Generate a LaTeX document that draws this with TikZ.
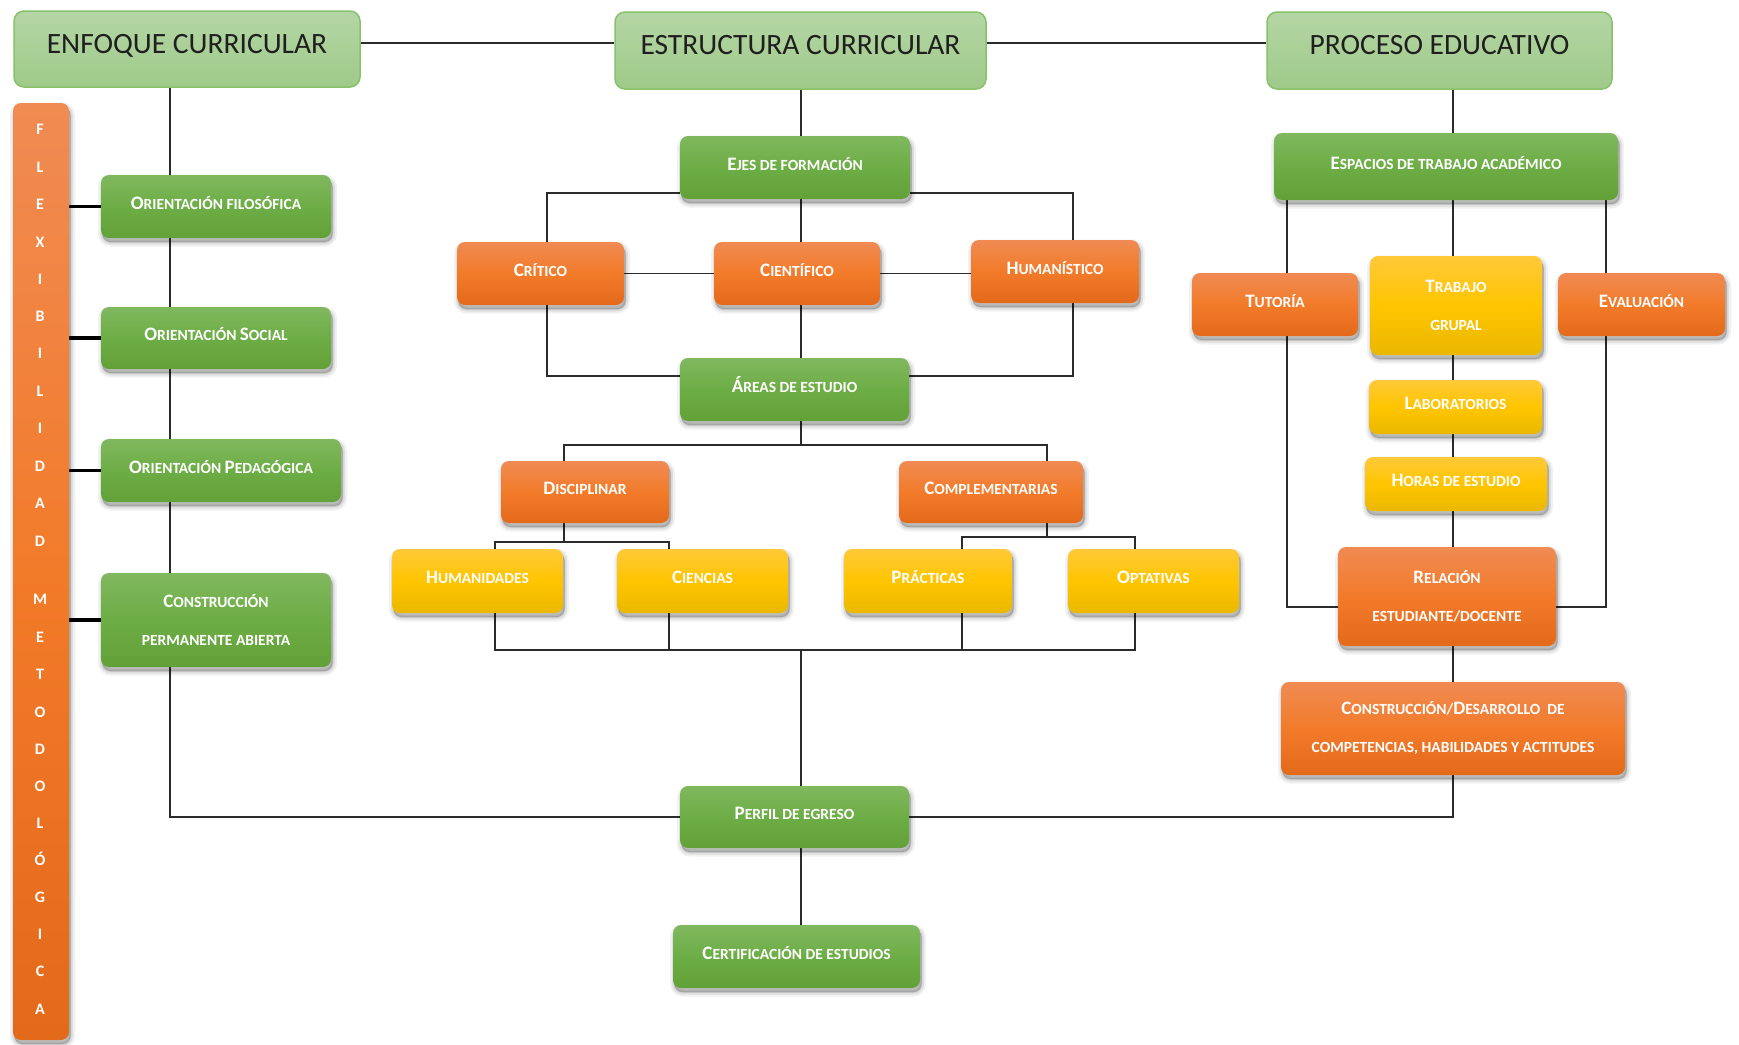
\documentclass[tikz,border=0pt]{standalone}
\usepackage{fontspec}
\setmainfont{Carlito}

\definecolor{hTop}{HTML}{B4D6A5}
\definecolor{hBot}{HTML}{9FCA89}
\definecolor{hLine}{HTML}{88C16B}
\definecolor{gTop}{HTML}{80B85F}
\definecolor{gMid}{HTML}{6DAD45}
\definecolor{gBot}{HTML}{62A138}
\definecolor{oTop}{HTML}{F08B53}
\definecolor{oMid}{HTML}{F27B2A}
\definecolor{oBot}{HTML}{E3691B}
\definecolor{yTop}{HTML}{FFC939}
\definecolor{yMid}{HTML}{FFC500}
\definecolor{yBot}{HTML}{EAB800}
\definecolor{lineC}{HTML}{2B2B2B}

\pgfdeclarelayer{back}
\pgfdeclarelayer{bg}
\pgfsetlayers{back,bg,main}

% larger initial letters of the small-caps labels
\newcommand\Bg[1]{{\fontsize{19}{38}\selectfont #1}}

\tikzset{
  sz/.style 2 args={minimum width=#1pt, minimum height=#2pt, inner sep=0pt},
  hdr/.style={rounded corners=10pt, top color=hTop, bottom color=hBot, draw=hLine,
    line width=1.5pt, text=black!88, font=\fontsize{29.5}{30}\selectfont,
    text height=20pt, text depth=12pt},
  % soft shadow built from a few widening translucent outlines
  softshadow/.style={
    preaction={draw=black, fill=black, line join=round, opacity=0.055, line width=9pt,
      transform canvas={xshift=1.5pt, yshift=-4pt}},
    preaction={draw=black, fill=black, line join=round, opacity=0.07, line width=5pt,
      transform canvas={xshift=1.5pt, yshift=-4pt}},
    preaction={draw=black, fill=black, line join=round, opacity=0.09, line width=1.5pt,
      transform canvas={xshift=1.5pt, yshift=-4pt}}},
  fillbase/.style={rounded corners=8pt, text=white,
    font=\bfseries\fontsize{15.5}{38}\selectfont, softshadow},
  boxbase/.style={fillbase, text height=12pt, text depth=7pt},
  greenbox/.style={boxbase, top color=gTop, bottom color=gBot, middle color=gMid},
  orangebox/.style={boxbase, top color=oTop, bottom color=oBot, middle color=oMid},
  yellowbox/.style={boxbase, top color=yTop, bottom color=yBot, middle color=yMid},
  bandbox/.style={fillbase, top color=oTop, bottom color=oBot, middle color=oMid},
  two/.style={align=center, text height=, text depth=},
  flex/.style={text=white, font=\bfseries\fontsize{16}{16}\selectfont,
    text height=10pt, text depth=0pt, inner sep=0pt},
  conn/.style={draw=lineC, line width=1.4pt},
  thick conn/.style={draw=black, line width=3.5pt},
}

\begin{document}
\begin{tikzpicture}[x=1pt,y=-1pt]
\useasboundingbox (0,0) rectangle (1739,1044);
\begin{pgfonlayer}{back}
  \fill[white] (0,0) rectangle (1739,1044);
\end{pgfonlayer}

% headers
\node[hdr, sz={346}{76}] (enf) at (187,49) {ENFOQUE CURRICULAR};
\node[hdr, sz={371}{77}] (est) at (800.5,50.5) {ESTRUCTURA CURRICULAR};
\node[hdr, sz={345}{77}] (pro) at (1439.5,50.5) {PROCESO EDUCATIVO};

% vertical band
\node[bandbox, sz={56}{937}] (bar) at (41,571.5) {};
\foreach \ch/\yy [count=\i] in {F/129, L/167, E/204, X/242, I/279, B/316, I/353,
    L/391, I/428, D/466, A/503, D/541, M/599, E/637, T/674, O/712, D/749, O/786,
    L/823, Ó/860, G/897, I/934, C/971, A/1009}
  \node[flex] (fl\i) at (40,\yy) {\ch};

% left column
\node[greenbox, sz={230}{63}] (of1) at (216,206.5) {\Bg{O}RIENTACIÓN FILOSÓFICA};
\node[greenbox, sz={230}{62}] (of2) at (216,338) {\Bg{O}RIENTACIÓN \Bg{S}OCIAL};
\node[greenbox, sz={240}{63}] (of3) at (221,470.5) {\Bg{O}RIENTACIÓN \Bg{P}EDAGÓGICA};
\node[greenbox, two, sz={230}{94}] (of4) at (216,620) {\Bg{C}ONSTRUCCIÓN\\PERMANENTE ABIERTA};

% centre column
\node[greenbox, sz={230}{63}] (ejes) at (795,167.5) {\Bg{E}JES DE FORMACIÓN};
\node[orangebox, sz={167}{63}] (cri) at (540.5,273.5) {\Bg{C}RÍTICO};
\node[orangebox, sz={166}{63}] (cie) at (797,273.5) {\Bg{C}IENTÍFICO};
\node[orangebox, sz={168}{63}] (hms) at (1055,271.5) {\Bg{H}UMANÍSTICO};
\node[greenbox, sz={229}{63}] (areas) at (794.5,389.5) {\Bg{Á}REAS DE ESTUDIO};
\node[orangebox, sz={168}{62}] (disc) at (585,492) {\Bg{D}ISCIPLINAR};
\node[orangebox, sz={184}{62}] (comp) at (991,492) {\Bg{C}OMPLEMENTARIAS};
\node[yellowbox, sz={171}{64}] (hum) at (477.5,581) {\Bg{H}UMANIDADES};
\node[yellowbox, sz={171}{64}] (cien) at (702.5,581) {\Bg{C}IENCIAS};
\node[yellowbox, sz={168}{64}] (pra) at (928,581) {\Bg{P}RÁCTICAS};
\node[yellowbox, sz={171}{64}] (opt) at (1153.5,581) {\Bg{O}PTATIVAS};
\node[greenbox, sz={229}{62}] (perfil) at (794.5,817) {\Bg{P}ERFIL DE EGRESO};
\node[greenbox, sz={247}{63}] (cert) at (796.5,956.5) {\Bg{C}ERTIFICACIÓN DE ESTUDIOS};

% right column
\node[greenbox, sz={344}{67}] (esp) at (1446,166.5) {\Bg{E}SPACIOS DE TRABAJO ACADÉMICO};
\node[orangebox, sz={166}{63}] (tut) at (1275,304.5) {\Bg{T}UTORÍA};
\node[yellowbox, two, sz={172}{99}] (tg) at (1456,305.5) {\Bg{T}RABAJO\\GRUPAL};
\node[orangebox, sz={167}{63}] (eva) at (1641.5,304.5) {\Bg{E}VALUACIÓN};
\node[yellowbox, sz={173}{54}] (lab) at (1455.5,407) {\Bg{L}ABORATORIOS};
\node[yellowbox, sz={182}{54}] (hor) at (1456,484) {\Bg{H}ORAS DE ESTUDIO};
\node[orangebox, two, sz={218}{99}] (rel) at (1447,596.5) {\Bg{R}ELACIÓN\\ESTUDIANTE/DOCENTE};
\node[orangebox, two, sz={344}{93}] (cons) at (1453,728.5)
  {\Bg{C}ONSTRUCCIÓN/\Bg{D}ESARROLLO\ \ DE\\COMPETENCIAS, HABILIDADES Y ACTITUDES};

% guide positions of the connector runs
\coordinate (yT) at (0,43);
\coordinate (xL) at (170,0);
\coordinate (xC) at (801,0);
\coordinate (xCr) at (547,0);
\coordinate (xHu) at (1073,0);
\coordinate (yE) at (0,193);
\coordinate (yA) at (0,376);
\coordinate (yB) at (0,445);
\coordinate (xD) at (564,0);
\coordinate (xK) at (1047,0);
\coordinate (yD) at (0,542);
\coordinate (yK) at (0,537);
\coordinate (xH1) at (495,0);
\coordinate (xH2) at (669,0);
\coordinate (xP) at (962,0);
\coordinate (xO) at (1135,0);
\coordinate (yJ) at (0,650);
\coordinate (xR) at (1453,0);
\coordinate (xTu) at (1287,0);
\coordinate (xEv) at (1606,0);
\coordinate (yR) at (0,607);

\begin{pgfonlayer}{bg}
  % headers
  \draw[conn] (enf.east |- yT) -- (est.west |- yT);
  \draw[conn] (est.east |- yT) -- (pro.west |- yT);
  % left spine down to the graduate profile
  \draw[conn] (enf.south -| xL) -- (xL |- perfil.west) -- (perfil.west);
  \foreach \n in {of1,of2,of3,of4}
    \draw[thick conn] (bar.east |- \n.west) -- (\n.west);
  % training axes
  \draw[conn] (est.south -| xC) -- (ejes.north -| xC);
  \draw[conn] (ejes.west |- yE) -- (xCr |- yE) -- (cri.north -| xCr);
  \draw[conn] (ejes.east |- yE) -- (xHu |- yE) -- (hms.north -| xHu);
  \draw[conn] (ejes.south -| xC) -- (cie.north -| xC);
  \draw[conn] (cri.east) -- (cie.west);
  \draw[conn] (cie.east) -- (cie.east -| hms.west);
  \draw[conn] (cri.south -| xCr) -- (xCr |- yA) -- (areas.west |- yA);
  \draw[conn] (hms.south -| xHu) -- (xHu |- yA) -- (areas.east |- yA);
  \draw[conn] (cie.south -| xC) -- (areas.north -| xC);
  % study areas
  \draw[conn] (areas.south -| xC) -- (xC |- yB);
  \draw[conn] (disc.north -| xD) -- (xD |- yB) -- (xK |- yB) -- (comp.north -| xK);
  \draw[conn] (disc.south -| xD) -- (xD |- yD);
  \draw[conn] (hum.north -| xH1) -- (xH1 |- yD) -- (xH2 |- yD) -- (cien.north -| xH2);
  \draw[conn] (comp.south -| xK) -- (xK |- yK);
  \draw[conn] (pra.north -| xP) -- (xP |- yK) -- (xO |- yK) -- (opt.north -| xO);
  \draw[conn] (hum.south -| xH1) -- (xH1 |- yJ) -- (xO |- yJ) -- (opt.south -| xO);
  \draw[conn] (cien.south -| xH2) -- (xH2 |- yJ);
  \draw[conn] (pra.south -| xP) -- (xP |- yJ);
  \draw[conn] (xC |- yJ) -- (perfil.north -| xC);
  \draw[conn] (perfil.south -| xC) -- (cert.north -| xC);
  % educational process
  \draw[conn] (pro.south -| xR) -- (esp.north -| xR);
  \draw[conn] (esp.south -| xTu) -- (xTu |- yR) -- (rel.west |- yR);
  \draw[conn] (esp.south -| xEv) -- (xEv |- yR) -- (rel.east |- yR);
  \draw[conn] (esp.south -| xR) -- (tg.north -| xR);
  \draw[conn] (tg.south -| xR) -- (lab.north -| xR);
  \draw[conn] (lab.south -| xR) -- (hor.north -| xR);
  \draw[conn] (hor.south -| xR) -- (rel.north -| xR);
  \draw[conn] (rel.south -| xR) -- (cons.north -| xR);
  \draw[conn] (cons.south -| xR) -- (xR |- perfil.east) -- (perfil.east);
\end{pgfonlayer}
\end{tikzpicture}
\end{document}
